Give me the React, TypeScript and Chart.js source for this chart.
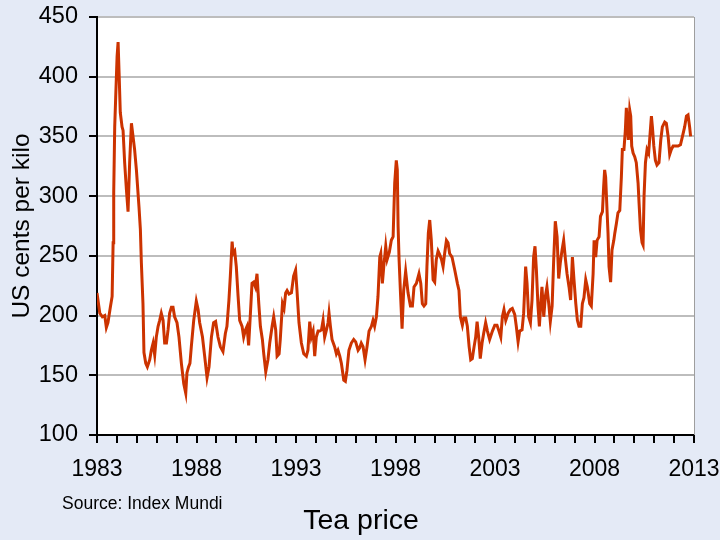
import React, { useEffect, useRef } from "react";
import { Chart, registerables } from "chart.js";

Chart.register(...registerables);

const chartTitle = "Tea price";
const sourceNote = "Source: Index Mundi";
const yAxisTitle = "US cents per kilo";
const xTickLabels = [1983, 1988, 1993, 1998, 2003, 2008, 2013];
const yMin = 100;
const yMax = 450;
const yStep = 50;

const years = [
  1983.0, 1983.14, 1983.27, 1983.39, 1983.47, 1983.55, 1983.67, 1983.76, 1983.81, 1983.84, 1983.89, 1983.94,
  1984.01, 1984.06, 1984.11, 1984.17, 1984.26, 1984.31, 1984.39, 1984.48, 1984.56, 1984.64, 1984.73, 1984.81, 1984.89, 1984.98,
  1985.11, 1985.18, 1985.23, 1985.31, 1985.36, 1985.45, 1985.53, 1985.65, 1985.73, 1985.82, 1985.9, 1985.98,
  1986.07, 1986.15, 1986.23, 1986.32, 1986.4, 1986.49, 1986.57, 1986.65, 1986.74, 1986.82, 1986.9,
  1987.02, 1987.12, 1987.24, 1987.36, 1987.46, 1987.52, 1987.6, 1987.67, 1987.74, 1987.86, 1987.99,
  1988.08, 1988.16, 1988.3, 1988.41, 1988.53, 1988.63, 1988.75, 1988.86, 1988.96,
  1989.08, 1989.2, 1989.33, 1989.45, 1989.53, 1989.63, 1989.7, 1989.79, 1989.84, 1989.92,
  1990.0, 1990.09, 1990.17, 1990.29, 1990.37, 1990.46, 1990.54, 1990.62, 1990.71, 1990.79, 1990.87, 1990.96,
  1991.04, 1991.13, 1991.21, 1991.31, 1991.38, 1991.48, 1991.59, 1991.68, 1991.8, 1991.88, 1991.98,
  1992.05, 1992.15, 1992.21, 1992.32, 1992.4, 1992.48, 1992.55, 1992.65, 1992.77, 1992.88, 1992.98,
  1993.05, 1993.15, 1993.27, 1993.39, 1993.52, 1993.6, 1993.69, 1993.77, 1993.86, 1993.94,
  1994.02, 1994.11, 1994.19, 1994.28, 1994.36, 1994.44, 1994.53, 1994.61, 1994.66, 1994.73, 1994.81, 1994.94,
  1995.03, 1995.11, 1995.2, 1995.28, 1995.4, 1995.48, 1995.56, 1995.66, 1995.78, 1995.9,
  1996.0, 1996.12, 1996.2, 1996.28, 1996.37, 1996.47, 1996.57, 1996.67, 1996.79, 1996.87, 1996.95,
  1997.04, 1997.12, 1997.21, 1997.26, 1997.34, 1997.41, 1997.51, 1997.58, 1997.69, 1997.79, 1997.88, 1997.96,
  1998.04, 1998.09, 1998.13, 1998.18, 1998.25, 1998.33, 1998.41, 1998.51, 1998.63, 1998.75, 1998.85, 1998.93,
  1999.05, 1999.18, 1999.27, 1999.35, 1999.43, 1999.52, 1999.58, 1999.65, 1999.72, 1999.8, 1999.89, 1999.97,
  2000.05, 2000.14, 2000.22, 2000.31, 2000.39, 2000.47, 2000.56, 2000.64, 2000.72, 2000.84, 2000.98,
  2001.11, 2001.19, 2001.26, 2001.36, 2001.43, 2001.53, 2001.61, 2001.7, 2001.78, 2001.86, 2001.95,
  2002.03, 2002.1, 2002.18, 2002.26, 2002.35, 2002.43, 2002.53, 2002.62, 2002.73, 2002.87, 2002.99,
  2003.1, 2003.2, 2003.29, 2003.37, 2003.45, 2003.54, 2003.66, 2003.77, 2003.87, 2003.99,
  2004.07, 2004.16, 2004.24, 2004.36, 2004.44, 2004.54, 2004.61, 2004.69, 2004.78, 2004.86, 2004.94,
  2005.01, 2005.08, 2005.16, 2005.23, 2005.3, 2005.36, 2005.45, 2005.53, 2005.61, 2005.7, 2005.78, 2005.87, 2005.95,
  2006.03, 2006.12, 2006.2, 2006.28, 2006.37, 2006.45, 2006.54, 2006.62, 2006.72, 2006.8, 2006.89, 2006.97,
  2007.06, 2007.14, 2007.22, 2007.31, 2007.39, 2007.47, 2007.56, 2007.64, 2007.76, 2007.84, 2007.93, 2007.98,
  2008.06, 2008.13, 2008.23, 2008.3, 2008.4, 2008.46, 2008.51, 2008.56, 2008.63, 2008.68, 2008.73, 2008.81, 2008.88, 2008.97,
  2009.02, 2009.1, 2009.18, 2009.27, 2009.35, 2009.4, 2009.48, 2009.55, 2009.6, 2009.65, 2009.7, 2009.77, 2009.82, 2009.87, 2009.94,
  2010.02, 2010.1, 2010.19, 2010.24, 2010.31, 2010.39, 2010.44, 2010.49, 2010.56, 2010.64, 2010.72, 2010.77, 2010.86, 2010.91, 2010.98,
  2011.06, 2011.14, 2011.24, 2011.33, 2011.41, 2011.53, 2011.61, 2011.7, 2011.78, 2011.86, 2011.95,
  2012.08, 2012.2, 2012.32, 2012.42, 2012.53, 2012.62, 2012.7, 2012.78, 2012.83,
];

const prices = [
  219, 202, 199, 200, 190, 194, 207, 216, 261, 303, 358, 383,
  417, 429, 403, 370, 358, 355, 328, 305, 287, 328, 361, 350, 339, 322,
  291, 272, 244, 210, 169, 160, 157, 163, 171, 177, 167, 182,
  191, 196, 202, 196, 177, 177, 188, 202, 207, 207, 199,
  194, 182, 160, 143, 135, 152, 157, 160, 174, 196, 212,
  205, 194, 182, 166, 148, 157, 182, 194, 195,
  182, 174, 170, 185, 191, 213, 233, 262, 252, 254,
  241, 216, 196, 191, 182, 188, 191, 175, 202, 227, 228, 224,
  235, 210, 191, 180, 168, 153, 163, 177, 191, 199, 188,
  166, 168, 180, 210, 206, 219, 221, 218, 219, 233, 238,
  221, 194, 177, 168, 166, 171, 195, 182, 187, 166,
  182, 187, 187, 188, 196, 182, 188, 194, 202, 191, 180, 174,
  168, 171, 166, 160, 146, 145, 154, 171, 177, 180,
  178, 171, 173, 177, 174, 163, 174, 187, 191, 196, 191,
  199, 216, 249, 252, 227, 241, 258, 247, 253, 263, 266, 311,
  330, 322, 275, 247, 219, 189, 221, 237, 219, 208, 208, 224,
  227, 235, 227, 210, 208, 210, 241, 269, 280, 263, 230, 228,
  247, 254, 251, 247, 241, 252, 263, 261, 252, 249, 238,
  227, 221, 199, 192, 198, 198, 191, 174, 163, 164, 174,
  182, 195, 182, 164, 177, 185, 194, 187, 180, 187, 192,
  192, 187, 182, 199, 205, 196, 202, 205, 206, 201,
  191, 178, 187, 188, 202, 241, 227, 199, 194, 213, 249,
  258, 238, 208, 191, 210, 224, 199, 216, 224, 210, 195, 208, 247,
  279, 266, 231, 244, 255, 263, 247, 235, 224, 213, 249, 230,
  210, 196, 191, 191, 210, 215, 230, 224, 210, 208, 235, 263,
  249, 263, 266, 283, 287, 308, 322, 316, 288, 269, 241, 228, 255, 263,
  269, 277, 286, 288, 316, 339, 339, 355, 374, 361, 347, 372, 367, 342, 336,
  333, 328, 311, 294, 272, 261, 259, 300, 328, 339, 336, 347, 367, 358, 342,
  330, 326, 328, 347, 358, 362, 361, 350, 335, 339, 342,
  342, 342, 343, 350, 358, 367, 368, 358, 350,
];

const BG = "#E4EAF6";
const LINE = "#CC3300";
const GRID = "#BDBDBD";
const FONT = "'Liberation Sans', Arial, sans-serif";

const framePlugin = {
  id: "frame",
  beforeDraw(chart: any) {
    const { ctx, chartArea: a, width, height } = chart;
    ctx.save();
    ctx.fillStyle = BG;
    ctx.fillRect(0, 0, width, height);
    ctx.fillStyle = "#ffffff";
    ctx.fillRect(a.left, a.top, a.right - a.left, a.bottom - a.top);
    ctx.restore();
  },
  afterDraw(chart: any) {
    const { ctx, chartArea: a, width } = chart;
    ctx.save();
    ctx.strokeStyle = "#9E9E9E";
    ctx.lineWidth = 1;
    ctx.beginPath();
    ctx.moveTo(a.right + 0.5, a.top);
    ctx.lineTo(a.right + 0.5, a.bottom);
    ctx.stroke();
    ctx.fillStyle = "#000000";
    ctx.textBaseline = "alphabetic";
    ctx.textAlign = "left";
    ctx.font = `17.5px ${FONT}`;
    ctx.fillText(sourceNote, 62, 509);
    ctx.textAlign = "center";
    ctx.font = `28.5px ${FONT}`;
    ctx.fillText(chartTitle, width / 2 + 1, 529);
    ctx.restore();
  },
};

export default function App() {
  const ref = useRef<HTMLCanvasElement | null>(null);

  useEffect(() => {
    if (!ref.current) return;
    const points = years.map((x, i) => ({ x, y: prices[i] }));
    const chart = new Chart(ref.current, {
      type: "line",
      data: {
        datasets: [
          {
            label: chartTitle,
            data: points,
            borderColor: LINE,
            borderWidth: 3,
            pointRadius: 0,
            tension: 0,
            fill: false,
          },
        ],
      },
      options: {
        animation: false,
        responsive: false,
        devicePixelRatio: 1,
        layout: { padding: { top: 17, right: 26, bottom: 0, left: 0 } },
        plugins: {
          legend: { display: false },
          tooltip: { enabled: false },
          title: { display: false },
        },
        scales: {
          x: {
            type: "linear",
            min: 1983,
            max: 2013,
            afterFit: (s: any) => {
              s.height = 105;
              s.paddingLeft = 0;
              s.paddingRight = 0;
            },
            ticks: {
              stepSize: 1,
              autoSkip: false,
              maxRotation: 0,
              minRotation: 0,
              padding: 13,
              color: "#000",
              font: { family: FONT, size: 23 },
              callback: (v: any) => (xTickLabels.includes(Number(v)) ? String(v) : ""),
            },
            grid: {
              display: true,
              drawOnChartArea: false,
              drawTicks: true,
              tickLength: 8,
              tickColor: "#000",
              lineWidth: 2,
            },
            border: { display: true, color: "#000", width: 2 },
          },
          y: {
            min: yMin,
            max: yMax,
            afterFit: (s: any) => {
              s.width = 97;
              s.paddingTop = 0;
              s.paddingBottom = 0;
            },
            title: {
              display: true,
              text: yAxisTitle,
              color: "#000",
              font: { family: FONT, size: 24.5 },
              padding: { top: 8, bottom: 0 },
            },
            ticks: {
              stepSize: yStep,
              padding: 11,
              color: "#000",
              font: { family: FONT, size: 23.5 },
            },
            grid: {
              color: (c: any) => (c.tick && c.tick.value === yMin ? "rgba(0,0,0,0)" : GRID),
              lineWidth: 2,
              tickLength: 8,
              tickColor: "#000",
            },
            border: { display: true, color: "#000", width: 2 },
          },
        },
      },
      plugins: [framePlugin],
    });
    return () => chart.destroy();
  }, []);

  return (
    <div style={{ position: "absolute", left: 0, top: 0, width: 720, height: 540, background: BG }}>
      <canvas ref={ref} width={720} height={540} />
    </div>
  );
}
